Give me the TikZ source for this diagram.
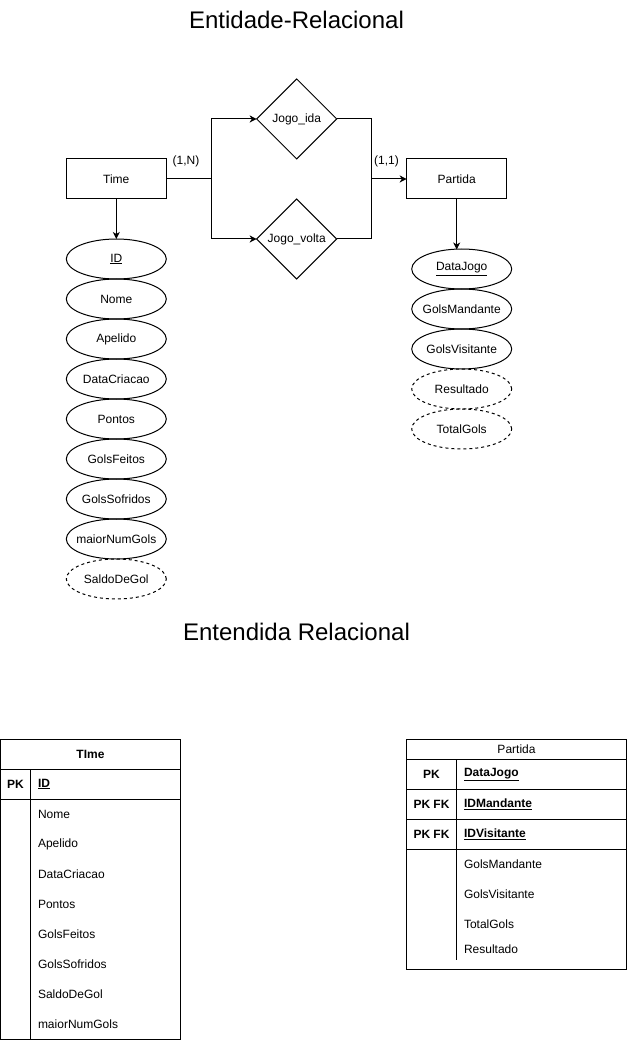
\documentclass[tikz,border=0pt]{standalone}
\usepackage{fontspec}
\setmainfont{Liberation Sans}
\usetikzlibrary{shapes.geometric,arrows.meta}
\begin{document}
\begin{tikzpicture}[x=1pt,y=-1pt,
  every node/.style={font=\fontsize{12}{14}\selectfont, inner sep=0pt, outer sep=0pt},
  line/.style={draw=black, line width=1pt},
  arr/.style={line, -{Stealth[length=7pt,width=7pt,inset=2pt]}},
  ent/.style={draw, line width=1pt, rectangle, minimum width=100pt, minimum height=40pt},
  rel/.style={draw, line width=1pt, diamond, aspect=1, minimum width=80pt, minimum height=80pt},
  attr/.style={draw, line width=1pt, ellipse, inner xsep=-20pt, inner ysep=0pt, minimum width=100pt, minimum height=40pt},
  dattr/.style={attr, dashed, dash pattern=on 3pt off 3pt},
  title/.style={font=\fontsize{24}{28}\selectfont},
  cell/.style={anchor=west},
  key/.style={font=\fontsize{12}{14}\selectfont\bfseries}
]
\useasboundingbox (0,0) rectangle (627,1040);
\fill[white] (0,0) rectangle (627,1040);

% Titles
\node[title] (t1) at (296.5,20) {Entidade-Relacional};
\node[title] (t2) at (296.5,632) {Entendida Relacional};

% Entities and relations
\node[ent] (time) at (116.3,179) {Time};
\node[ent] (partida) at (456.7,179) {Partida};
\node[rel] (ida) at (296.7,119) {Jogo\_ida};
\node[rel] (volta) at (296.7,239) {Jogo\_volta};

\coordinate (jl) at (211.7,179);
\coordinate (jr) at (371.7,179);
\draw[line] (time.east) -- (jl);
\draw[arr] (jl) |- (ida.west);
\draw[arr] (jl) |- (volta.west);
\draw[line] (ida.east) -| (jr);
\draw[line] (volta.east) -| (jr);
\draw[arr] (jr) -- (partida.west);

\node (l1) at (186,161) {(1,N)};
\node (l2) at (386.5,161) {(1,1)};

% Time attributes
\node[attr] (a1) at (116.3,259) {\underline{ID}};
\node[attr] (a2) at (116.3,299) {Nome};
\node[attr] (a3) at (116.3,339) {Apelido};
\node[attr] (a4) at (116.3,379) {DataCriacao};
\node[attr] (a5) at (116.3,419) {Pontos};
\node[attr] (a6) at (116.3,459) {GolsFeitos};
\node[attr] (a7) at (116.3,499) {GolsSofridos};
\node[attr] (a8) at (116.3,539) {maiorNumGols};
\node[dattr] (a9) at (116.3,579) {SaldoDeGol};
\draw[arr] (time.south) -- (a1.north);

% Partida attributes
\node[attr] (b1) at (461.7,269) {\underline{DataJogo}};
\node[attr] (b2) at (461.7,309) {GolsMandante};
\node[attr] (b3) at (461.7,349) {GolsVisitante};
\node[dattr] (b4) at (461.7,389) {Resultado};
\node[dattr] (b5) at (461.7,429) {TotalGols};
\coordinate (pb) at (456.7,249.5);
\draw[arr] (partida.south) -- (pb);

% Table TIme
\draw[line] (0.5,739) rectangle (180.5,1039.5);
\draw[line] (0.5,769) -- (180.5,769);
\draw[line] (0.5,799) -- (180.5,799);
\draw[line] (30.5,769) -- (30.5,1039.5);
\node[key] (th) at (90.5,754) {TIme};
\node[key] (tpk) at (15.5,784) {PK};
\node[key,cell] (tid) at (38,784) {\underline{ID}};
\node[cell] (r1) at (38,814) {Nome};
\node[cell] (r2) at (38,844) {Apelido};
\node[cell] (r3) at (38,874) {DataCriacao};
\node[cell] (r4) at (38,904) {Pontos};
\node[cell] (r5) at (38,934) {GolsFeitos};
\node[cell] (r6) at (38,964) {GolsSofridos};
\node[cell] (r7) at (38,994) {SaldoDeGol};
\node[cell] (r8) at (38,1024) {maiorNumGols};

% Table Partida
\draw[line] (406.5,739.5) rectangle (626.5,969.5);
\draw[line] (406.5,759.5) -- (626.5,759.5);
\draw[line] (406.5,789.5) -- (626.5,789.5);
\draw[line] (406.5,819.5) -- (626.5,819.5);
\draw[line] (406.5,849.5) -- (626.5,849.5);
\draw[line] (456.5,759.5) -- (456.5,959.5);
\node (ph) at (516.5,749.5) {Partida};
\node[key] (pk1) at (431.5,774.5) {PK};
\node[key] (pk2) at (431.5,804.5) {PK FK};
\node[key] (pk3) at (431.5,834.5) {PK FK};
\node[key,cell] (p1) at (464,774.5) {\underline{DataJogo}};
\node[key,cell] (p2) at (464,804.5) {\underline{IDMandante}};
\node[key,cell] (p3) at (464,834.5) {\underline{IDVisitante}};
\node[cell] (p4) at (464,864) {GolsMandante};
\node[cell] (p5) at (464,894) {GolsVisitante};
\node[cell] (p6) at (464,924) {TotalGols};
\node[cell] (p7) at (464,949) {Resultado};
\end{tikzpicture}
\end{document}
